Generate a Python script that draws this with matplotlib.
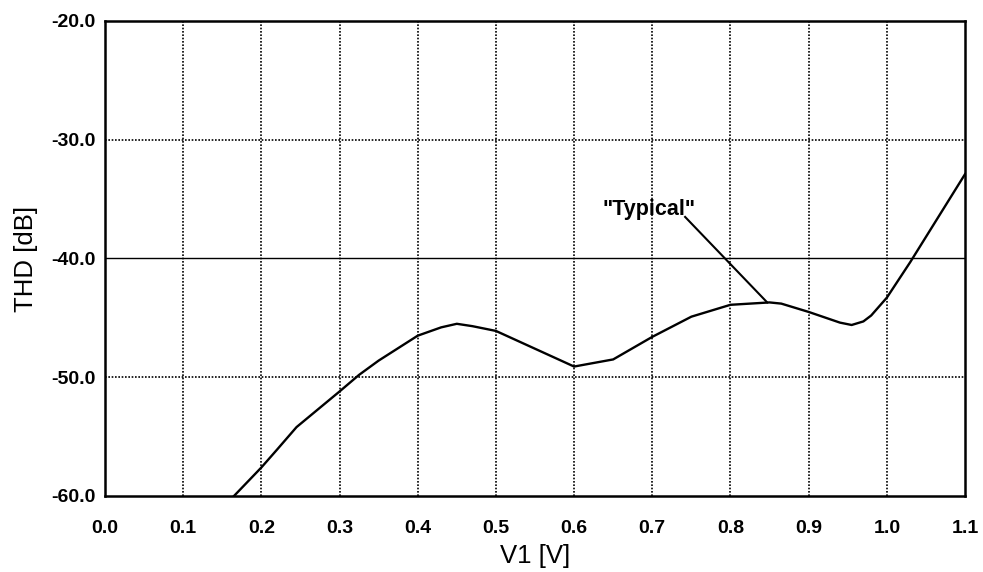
import matplotlib
matplotlib.use("Agg")
import matplotlib.pyplot as plt

plt.rcParams['font.family'] = ['Liberation Sans', 'DejaVu Sans']

# Curve data
v1 = [0.165, 0.20, 0.22, 0.245, 0.30, 0.325, 0.35, 0.40, 0.43, 0.45, 0.47, 0.50, 0.55, 0.60, 0.65,
      0.70, 0.75, 0.80, 0.85, 0.865, 0.90, 0.94, 0.955, 0.97, 0.98, 1.00, 1.03, 1.10]
thd = [-60.0, -57.6, -56.1, -54.2, -51.2, -49.8, -48.6, -46.5, -45.8, -45.5, -45.7, -46.1, -47.6, -49.1, -48.5,
       -46.6, -44.9, -43.9, -43.7, -43.8, -44.5, -45.4, -45.6, -45.3, -44.8, -43.3, -40.3, -32.9]

x_ticks = [0.0, 0.1, 0.2, 0.3, 0.4, 0.5, 0.6, 0.7, 0.8, 0.9, 1.0, 1.1]
x_tick_labels = ["0.0", "0.1", "0.2", "0.3", "0.4", "0.5", "0.6", "0.7", "0.8", "0.9", "1.0", "1.1"]
y_ticks = [-60.0, -50.0, -40.0, -30.0, -20.0]
y_tick_labels = ["-60.0", "-50.0", "-40.0", "-30.0", "-20.0"]

annot_text = '"Typical"'
annot_xy = (0.847, -43.7)
annot_line_start = (0.742, -36.5)
annot_text_pos = (0.755, -35.9)

fig = plt.figure(figsize=(9.83, 5.72), dpi=100)
ax = fig.add_axes([0.1068, 0.1329, 0.8749, 0.8304])

# grid lines
for xv in x_ticks[1:-1]:
    ax.axvline(xv, color='black', linestyle=(0, (1, 1)), linewidth=1.2, zorder=1)
for yv in y_ticks[1:-1]:
    if yv == -40.0:
        ax.axhline(yv, color='black', linestyle='-', linewidth=1.0, zorder=1)
    else:
        ax.axhline(yv, color='black', linestyle=(0, (1, 1)), linewidth=1.2, zorder=1)

ax.plot(v1, thd, color='black', linewidth=1.7, zorder=3, clip_on=True)

ax.set_xlim(0.0, 1.1)
ax.set_ylim(-60.0, -20.0)
ax.set_xticks(x_ticks)
ax.set_xticklabels(x_tick_labels, fontsize=14, fontweight='bold')
ax.set_yticks(y_ticks)
ax.set_yticklabels(y_tick_labels, fontsize=14, fontweight='bold')
ax.tick_params(axis='x', length=0, pad=17)
ax.tick_params(axis='y', length=0, pad=7)

for s in ax.spines.values():
    s.set_linewidth(1.8)

ax.set_xlabel("V1 [V]", fontsize=18.5, labelpad=5)
ax.set_ylabel("THD [dB]", fontsize=18.5, labelpad=9)

ax.plot([annot_line_start[0], annot_xy[0]], [annot_line_start[1], annot_xy[1]],
        color='black', linewidth=1.5, zorder=3)
ax.text(annot_text_pos[0], annot_text_pos[1], annot_text,
        fontsize=15.5, fontweight='bold', ha='right', va='center', zorder=4)

fig.savefig("out.png", dpi=100)
